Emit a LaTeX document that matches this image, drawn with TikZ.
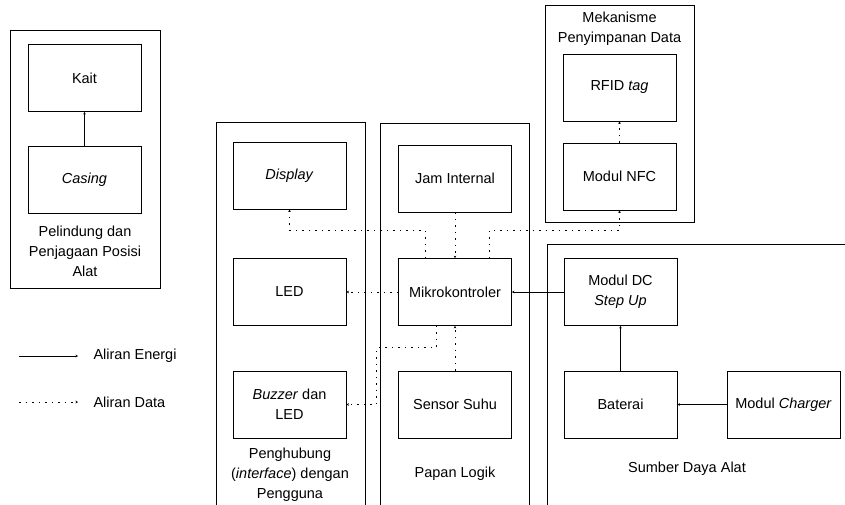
\documentclass[tikz,border=0pt]{standalone}
\usepackage{fontspec}
\setmainfont{Liberation Sans}
\usetikzlibrary{arrows.meta}

\begin{document}
\begin{tikzpicture}[x=1pt, y=-1pt,
  every node/.style={font=\fontsize{14.5}{20}\selectfont},
  blok/.style={draw, line width=0.8pt, minimum width=113pt, minimum height=67pt,
    inner sep=0pt, align=center},
  grup/.style={draw, line width=0.8pt},
  ket/.style={align=center},
  energi/.style={line width=0.8pt, -{Stealth[length=2.5pt,width=2.5pt]}},
  data/.style={line width=0.9pt, dash pattern=on 1.5pt off 5pt,
    -{Stealth[length=2.5pt,width=2.5pt]}}]
\useasboundingbox (0,0) rectangle (845,504);
\clip (0,0) rectangle (845,504);

% kelompok
\draw[grup] (10,30) rectangle (160,288);
\draw[grup] (216,122) rectangle (365,530);
\draw[grup] (380,123) rectangle (529,530);
\draw[grup] (545,5) rectangle (694,222);
\draw[grup] (547,244) rectangle (870,530);

% komponen
\node[blok] (kait)    at (84.5,78)    {Kait};
\node[blok] (casing)  at (84.5,179.5) {\textit{Casing}};
\node[blok] (display) at (289.5,175.5) {\textit{Display}};
\node[blok] (led)     at (289.5,292)  {LED};
\node[blok] (buzzer)  at (289.5,404.5) {\textit{Buzzer} dan\\LED};
\node[blok] (jam)     at (455,178.5)  {Jam Internal};
\node[blok] (mikro)   at (455,292)    {Mikrokontroler};
\node[blok] (sensor)  at (455,404.5)  {Sensor Suhu};
\node[blok] (rfid)    at (619.5,87.5) {RFID \textit{tag}};
\node[blok] (nfc)     at (619.5,176.5) {Modul NFC};
\node[blok] (dcup)    at (620.5,292)  {Modul DC\\\textit{Step Up}};
\node[blok] (baterai) at (620.5,404.5) {Baterai};
\node[blok] (charger) at (783.5,404.5) {Modul \textit{Charger}};

% keterangan kelompok
\node[ket] (kpelindung) at (85,251) {Pelindung dan\\Penjagaan Posisi\\Alat};
\node[ket] (kpenghubung) at (290,475) {Penghubung\\(\textit{interface}) dengan\\Pengguna};
\node[ket] (kpapan) at (455,474) {Papan Logik};
\node[ket] (kmekanisme) at (619.5,29) {Mekanisme\\Penyimpanan Data};
\node[ket] (ksumber) at (687,469) {Sumber Daya Alat};

% aliran energi
\draw[energi] (casing) -- (kait);
\draw[energi] (dcup) -- (mikro);
\draw[energi] (baterai) -- (dcup);
\draw[energi] (charger) -- (baterai);

% aliran data
\draw[data] (jam) -- (mikro);
\draw[data] (sensor) -- (mikro);
\draw[data] (mikro) -- (led);
\draw[data] (nfc) -- (rfid);
\draw[data] ([xshift=-30pt]mikro.north) -- ++(0,-28) -| (display.south);
\draw[data] ([xshift=34pt]mikro.north) -- ++(0,-28) -| (nfc.south);
\draw[data] ([xshift=-19pt]mikro.south) -- ++(0,22) -| ([xshift=30pt]buzzer.east) -- (buzzer.east);

% legenda
\coordinate (le1) at (19,356);
\coordinate (le2) at (78,356);
\coordinate (ld1) at (19,402);
\coordinate (ld2) at (78,402);
\draw[energi] (le1) -- (le2);
\draw[data] (ld1) -- (ld2);
\node[anchor=west] (tenergi) at (90,356) {Aliran Energi};
\node[anchor=west] (tdata) at (90,402) {Aliran Data};
\end{tikzpicture}
\end{document}
